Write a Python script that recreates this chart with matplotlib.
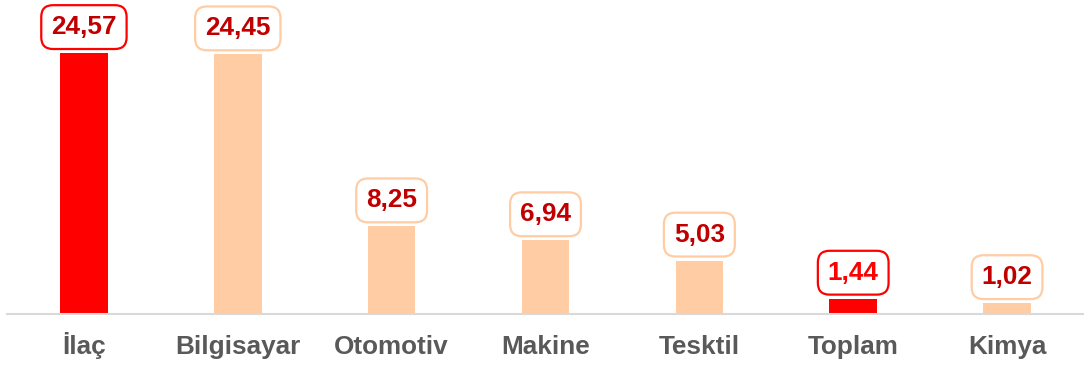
import matplotlib
matplotlib.use('Agg')
import matplotlib.pyplot as plt

plt.rcParams['font.family'] = ['Liberation Sans', 'DejaVu Sans']

categories = ['İlaç', 'Bilgisayar', 'Otomotiv', 'Makine', 'Tesktil', 'Toplam', 'Kimya']
values = [24.57, 24.45, 8.25, 6.94, 5.03, 1.44, 1.02]
highlight = [True, False, False, False, False, True, False]

RED = '#FF0000'
PEACH = '#FFCCA3'
DARK_RED = '#C00000'
GRAY = '#595959'

fig = plt.figure(figsize=(10.84, 3.67), dpi=100)
ax = fig.add_axes([7 / 1084, 53 / 367, 1077 / 1084, 314 / 367])

x = range(len(categories))
colors = [RED if h else PEACH for h in highlight]
ax.bar(x, values, width=0.31, color=colors, zorder=2)

# value tags sitting above each bar
for i, (v, h) in enumerate(zip(values, highlight)):
    ax.annotate(f"{v:.2f}".replace('.', ','), xy=(i, v), xytext=(0, 26),
                textcoords='offset pixels', ha='center', va='center',
                fontsize=18.8, fontweight='bold',
                color=RED if categories[i] == 'Toplam' else DARK_RED,
                bbox=dict(boxstyle='round,pad=0.38,rounding_size=0.45',
                          fc='white', ec=RED if h else PEACH, lw=1.6))

ax.set_xlim(-0.5, len(categories) - 0.5)
ax.set_ylim(0, 29.57)
ax.set_xticks(list(x))
ax.set_xticklabels(categories, fontsize=18.8, fontweight='bold', color=GRAY,
                   va='baseline')
ax.tick_params(axis='x', length=0, pad=29)
ax.set_yticks([])
for side in ['top', 'right', 'left']:
    ax.spines[side].set_visible(False)
ax.spines['bottom'].set_color('#D9D9D9')
ax.spines['bottom'].set_linewidth(1.5)

plt.savefig('out.png', dpi=100)
